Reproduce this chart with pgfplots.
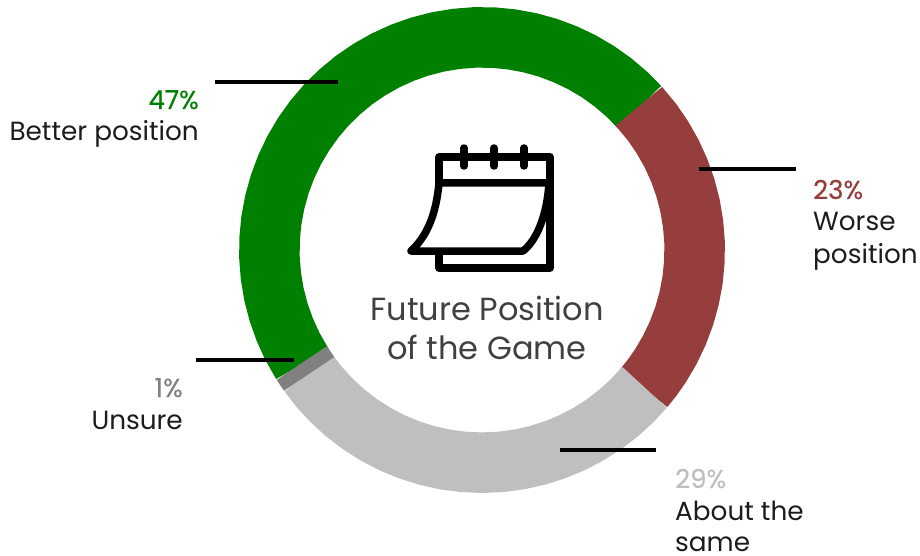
\documentclass[border=0pt]{standalone}
\usepackage{pgfplots}
\pgfplotsset{compat=1.18}
\usepackage{fontspec}
\setmainfont{Poppins}
\newfontfamily\pctfont[FakeBold=0.35]{Poppins}
\definecolor{cbetter}{HTML}{008000}
\definecolor{cworse}{HTML}{963D3D}
\definecolor{csame}{HTML}{BFBFBF}
\definecolor{cunsure}{HTML}{808080}
\definecolor{ctitle}{HTML}{404040}
\definecolor{clabel}{HTML}{1C1C1C}
\tikzset{
  lab/.style={inner sep=0pt, text=clabel, font=\fontsize{26.3}{26}\selectfont},
  pct/.style={inner sep=0pt, font=\fontsize{26}{26}\selectfont\pctfont},
}
\begin{document}
\begin{tikzpicture}
\begin{axis}[
  width=920pt, height=555pt,
  scale only axis,
  hide axis,
  clip=false,
  xmin=-482, xmax=438,
  ymin=-305, ymax=250,
  no markers,
]
% ring sections, angle and radius from the centre
\addplot[data cs=polar, cbetter, line width=60.5pt] coordinates {
  (212.4,212.7) (207,212.7) (202,212.7) (197,212.7) (192,212.7) (187,212.7) (182,212.7)
  (177,212.7) (172,212.7) (167,212.7) (162,212.7) (157,212.7) (152,212.7) (147,212.7)
  (142,212.7) (137,212.7) (132,212.7) (127,212.7) (122,212.7) (117,212.7) (112,212.7)
  (107,212.7) (102,212.7) (97,212.7) (92,212.7) (87,212.7) (82,212.7) (77,212.7)
  (72,212.7) (67,212.7) (62,212.7) (57,212.7) (52,212.7) (47,212.7) (42.2,212.7)};
\addplot[data cs=polar, cworse, line width=60.5pt] coordinates {
  (42.5,212.7) (37,212.7) (32,212.7) (27,212.7) (22,212.7) (17,212.7) (12,212.7) (7,212.7)
  (2,212.7) (-3,212.7) (-8,212.7) (-13,212.7) (-18,212.7) (-23,212.7) (-28,212.7)
  (-33,212.7) (-37,212.7) (-40.5,212.7)};
\addplot[data cs=polar, csame, line width=60.5pt] coordinates {
  (-40.2,212.7) (-45,212.7) (-50,212.7) (-55,212.7) (-60,212.7) (-65,212.7) (-70,212.7)
  (-75,212.7) (-80,212.7) (-85,212.7) (-90,212.7) (-95,212.7) (-100,212.7) (-105,212.7)
  (-110,212.7) (-115,212.7) (-120,212.7) (-125,212.7) (-130,212.7) (-135,212.7)
  (-140,212.7) (-144.7,212.7)};
\addplot[data cs=polar, cunsure, line width=60.5pt] coordinates {
  (215.6,212.7) (212.1,212.7)};
% leader lines
\addplot[black, line width=3.4pt] coordinates {(-267,168) (-144,168)};
\addplot[black, line width=3.4pt] coordinates {(217,81) (314,81)};
\addplot[black, line width=3.4pt] coordinates {(-286,-110) (-188,-110)};
\addplot[black, line width=3.4pt] coordinates {(78,-200) (174,-200)};
% labels
\node[pct, anchor=base east, text=cbetter] at (axis cs:-283,141) {47\%};
\node[lab, anchor=base east] at (axis cs:-283,109) {Better position};
\node[pct, anchor=base west, text=cworse] at (axis cs:331,51) {23\%};
\node[lab, anchor=base west] at (axis cs:331,19) {Worse};
\node[lab, anchor=base west] at (axis cs:331,-13) {position};
\node[pct, anchor=base west, text=csame] at (axis cs:193,-238) {29\%};
\node[lab, anchor=base west] at (axis cs:193,-270) {About the};
\node[lab, anchor=base west] at (axis cs:193,-301) {same};
\node[pct, anchor=base east, text=cunsure] at (axis cs:-299,-147) {1\%};
\node[lab, anchor=base east] at (axis cs:-299,-179) {Unsure};
\node[anchor=base, text=ctitle, font=\fontsize{32}{32}\selectfont] at (axis cs:5,-70) {Future Position};
\node[anchor=base, text=ctitle, font=\fontsize{32}{32}\selectfont] at (axis cs:5,-109) {of the Game};
% calendar icon, in picture pixels
\begin{scope}[shift={(axis cs:-482,250)}, x=1pt, y=-1pt, line width=7.5pt, line cap=round, line join=round]
  \draw (439,251) -- (439,268) -- (550,268) -- (550,157) -- (439,157) -- (439,183);
  \draw[fill=white] (439,183) .. controls (436,215) and (427,236) .. (411,251)
    -- (523,251) .. controls (537,240) and (547,215) .. (549,183) -- cycle;
  \draw (464,148) -- (464,166);
  \draw (494,148) -- (494,166);
  \draw (524,148) -- (524,166);
\end{scope}
\end{axis}
\pgfresetboundingbox
\path[use as bounding box] (0,0) rectangle (920pt,555pt);
\end{tikzpicture}
\end{document}
